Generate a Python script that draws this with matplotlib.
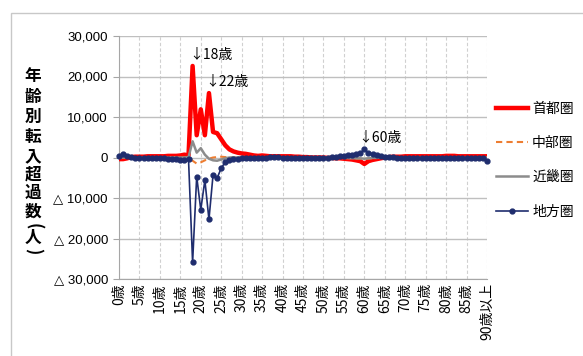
import matplotlib
matplotlib.use("Agg")
import matplotlib.pyplot as plt
import numpy as np
from matplotlib.patches import Rectangle

plt.rcParams['font.family'] = ['Liberation Sans', 'DejaVu Sans', 'Noto Sans CJK JP']

ages = np.arange(0, 91)

# 首都圏
shutoken = [-400, -400, -200, 100, 200, 200, 200, 300, 300, 300,
            300, 300, 400, 400, 400, 500, 700, 500, 22600, 5500,
            11900, 5500, 15900, 6300, 6000, 4500, 3000, 2000, 1500, 1200,
            1000, 900, 700, 500, 400, 500, 400, 300, 300, 300,
            300, 300, 300, 200, 200, 100, 100, 0, 0, 0,
            0, -100, -100, -200, -200, -300, -400, -500, -700, -900,
            -1600, -900, -600, -400, -200, 0, 100, 200, 200, 200,
            300, 300, 300, 300, 300, 300, 300, 300, 300, 300,
            400, 400, 400, 300, 300, 300, 300, 300, 300, 300,
            300]
# 中部圏
chubu = [0, 0, 0, 0, 0, 0, 0, 0, 0, 0,
         0, 0, 0, 0, 0, 0, 0, -100, -800, -1500,
         -1200, -700, -300, 0, 100, 200, 100, 100, 0, 0,
         0, 0, 0, 0, 0, 0, 0, 0, 0, 0,
         0, 0, 0, 0, 0, 0, 0, 0, 0, 0,
         0, 0, 0, -100, -100, -100, -200, -200, -300, -300,
         -400, -300, -200, -100, -100, 0, 0, 0, 0, 0,
         0, 0, 0, 0, 0, 0, 0, 0, 0, 0,
         0, 0, 0, 0, 0, 0, 0, 0, 0, 0,
         0]
# 近畿圏
kinki = [0, 0, 0, 0, 0, 0, 0, 0, 0, 0,
         0, 0, 0, 0, 0, 0, 0, 100, 4000, 1200,
         2300, 700, -300, -700, -800, -500, -200, 0, 0, 0,
         0, 0, 0, 0, 0, 0, 0, 0, 0, 0,
         0, 0, 0, 0, 0, 0, 0, 0, 0, 0,
         0, 0, 0, 0, -100, -100, -100, -200, -200, -200,
         -300, -200, -100, -100, 0, 0, 0, 0, 0, 0,
         0, 0, 0, 0, 0, 0, 0, 0, 0, 0,
         0, 0, 0, 0, 0, 0, 0, 0, 0, 0,
         0]
# 地方圏
chiho = [250, 750, 400, 100, -100, -100, -150, -150, -150, -150,
         -200, -200, -300, -300, -300, -600, -500, -400, -25900, -4700,
         -12900, -5600, -15300, -4300, -5100, -2600, -1150, -600, -400, -250,
         -150, -100, -100, 0, 0, 0, 0, 100, 100, 100,
         0, 0, -100, -100, -100, -100, -100, -100, -100, -100,
         0, 0, 100, 200, 300, 400, 500, 600, 800, 1000,
         2000, 1000, 800, 500, 300, 200, 100, 100, 0, 0,
         -100, -100, -100, -100, -200, -200, -200, -200, -200, -200,
         -200, -200, -200, -200, -200, -200, -200, -200, -200, -200,
         -800]

xtick_pos = np.arange(0, 91, 5)
xtick_labels = [f"{a}歳" for a in range(0, 90, 5)] + ["90歳以上"]
ytick_pos = np.arange(-30000, 30001, 10000)
ytick_labels = ["△ 30,000", "△ 20,000", "△ 10,000", "0", "10,000", "20,000", "30,000"]

fig = plt.figure(figsize=(5.83, 3.56), dpi=100)
fig.patches.append(Rectangle((11 / 583, -0.1), 1.2, 1.1 - 13 / 356,
                             transform=fig.transFigure, fill=False,
                             edgecolor='#c8c8c8', lw=1))
ax = fig.add_axes([119 / 583, 1 - 279 / 356, (487 - 119) / 583, (279 - 36) / 356])

ax.plot(ages, shutoken, color='#ff0000', lw=3.2, label='首都圏', zorder=3)
ax.plot(ages, chubu, color='#ed7d31', lw=1.5, ls=(0, (3, 2)), label='中部圏', zorder=3)
ax.plot(ages, kinki, color='#8c8c8c', lw=1.8, label='近畿圏', zorder=3)
ax.plot(ages, chiho, color='#1f2d6e', lw=1.2, marker='o', ms=3.5,
        label='地方圏', zorder=4, clip_on=False)

ax.set_xlim(0, 90)
ax.set_ylim(-30000, 30000)
ax.set_yticks(ytick_pos)
ax.set_yticklabels(ytick_labels, fontsize=9.5)
ax.set_xticks(xtick_pos)
ax.set_xticklabels(xtick_labels, rotation=90, fontsize=10,
                   family=['Noto Sans CJK JP'])
ax.tick_params(axis='x', length=0, pad=3)
ax.tick_params(axis='y', length=4, color='#a6a6a6', pad=4)

ax.grid(axis='y', color='#bfbfbf', lw=1)
ax.grid(axis='x', color='#d0d0d0', lw=0.8, ls=(0, (3, 2)))
for s in ['top', 'right']:
    ax.spines[s].set_visible(False)
for s in ['left', 'bottom']:
    ax.spines[s].set_color('#a6a6a6')

# annotations
ax.text(17.1, 25300, "↓18歳", fontsize=10, va='center', ha='left',
        family=['Noto Sans CJK JP'])
ax.text(21.0, 18600, "↓22歳", fontsize=10, va='center', ha='left',
        family=['Noto Sans CJK JP'])
ax.text(58.4, 4700, "↓60歳", fontsize=10, va='center', ha='left',
        family=['Noto Sans CJK JP'])

# vertical y label
ylabel_chars = ["年", "齢", "別", "転", "入", "超", "過", "数", "(", "人", ")"]
ylabel_y = [76, 97, 117, 137, 157, 175, 193, 212, 226, 238, 251]
for ch, yy in zip(ylabel_chars, ylabel_y):
    rot = -90 if ch in "()" else 0
    fig.text(33 / 583, 1 - yy / 356, ch, fontsize=12, fontweight='bold',
             ha='center', va='center', rotation=rot,
             family=['Noto Sans CJK JP'])

ax.legend(loc='upper left', bbox_to_anchor=(496 / 583, 1 - 102 / 356),
          bbox_transform=fig.transFigure, frameon=False,
          labelspacing=1.45, handlelength=2.3, handletextpad=0.3,
          borderaxespad=0, borderpad=0, prop={'family': ['Noto Sans CJK JP'], 'size': 10})

fig.savefig("out.png", dpi=100)
